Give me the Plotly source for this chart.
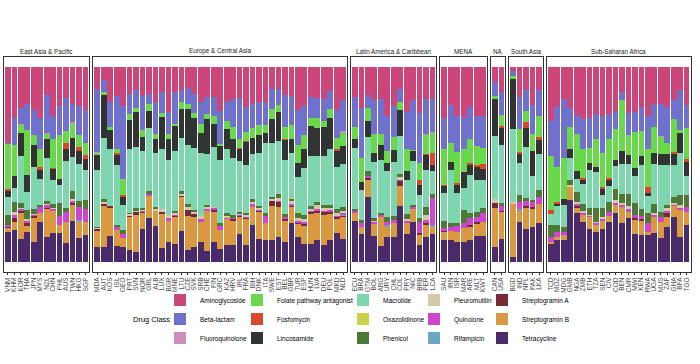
import plotly.graph_objects as go

# ---------------- data ----------------
region_names = ["East Asia & Pacific", "Europe & Central Asia", "Latin America & Caribbean",
                "MENA", "NA", "South Asia", "Sub-Saharan Africa"]

eap = ["VNM", "KHM", "KOR", "THA", "JPN", "MYS", "NZL", "CHN", "PHL", "AUS", "TWN", "HKG", "SGP"]
eca = ["MDA", "AUT", "KOS", "ISL", "GEO", "PRT", "SVN", "NOR", "GRL", "ALB", "LUX", "BGR", "MNE",
       "LTU", "CZE", "SVK", "SRB", "CHE", "FIN", "GRC", "KAZ", "HRV", "IRL", "FRA", "BIH", "DNK",
       "ITA", "SWE", "EST", "BEL", "GBR", "TUR", "ESP", "HUN", "LVA", "DEU", "POL", "MKD", "NLD"]
lac = ["ECU", "BRA", "GTM", "BOL", "ARG", "URY", "CHL", "COL", "PRY", "NIC", "BRB", "PER", "LCA"]
mena = ["SAU", "IRN", "ISR", "MAR", "ARE", "MLT", "KWT"]
nam = ["CAN", "USA"]
sas = ["BGD", "IND", "NPL", "PAK", "LKA"]
ssa = ["TCD", "MOZ", "MDG", "GMB", "NGA", "ZMB", "ETH", "TZA", "SEN", "CIV", "COD", "BEN", "CMR",
       "MWI", "KEN", "RWA", "UGA", "MUS", "ZAF", "GHA", "BFA", "TGO"]
region_countries = [eap, eca, lac, mena, nam, sas, ssa]

drug_classes = ["Aminoglycoside", "Beta-lactam", "Fluoroquinolone", "Folate pathway antagonist",
                "Fosfomycin", "Lincosamide", "Macrolide", "Oxazolidinone", "Phenicol",
                "Pleuromutilin", "Quinolone", "Rifampicin", "Streptogramin A", "Streptogramin B",
                "Tetracycline"]
class_colors = ["#CD4679", "#7070CD", "#CF8DBD", "#6AD84B", "#D9472E", "#303533", "#7ED6AF",
                "#C9D24B", "#4C7A36", "#D4C8AA", "#D045CF", "#6AA7C4", "#752A35", "#DA9841",
                "#4A2A6A"]

# shares (%) per country, in the order of the country lists above
aminoglycoside = [
    38.8, 25.9, 21.2, 19, 22.4, 26.4, 14.7, 25.3, 20.2, 16, 19, 20.1, 22.1,
    11.2, 6.6, 18.1, 15.2, 20, 14.1, 12.1, 15, 13.8, 17.8, 12.9, 22.9, 12.9, 12.1, 10.9, 13.8, 18.1,
    15.5, 15.5, 22.4, 17.8, 16.7, 16, 20.7, 19, 18, 17.8, 11.2, 11.2, 14.3, 15, 22.1, 19.8, 15.5,
    16, 16.4, 12.6, 22.1, 17.2,
    15.5, 21.2, 14.7, 17.2, 16.4, 25.3, 20.2, 11.2, 22.9, 17.2, 23.6, 16.4, 16.4,
    26.4, 19.8, 25.3, 25.9, 20.7, 25.3, 25.3,
    7.8, 12.9,
    2.1, 15.5, 12.1, 19.8, 12.1,
    27.6, 20.7, 16.4, 21.2, 24.7, 26.7, 26.4, 24.1, 25.3, 24.1, 22.9, 12.9, 23.3, 23.3, 20.7, 25,
    19, 19, 20.7, 17.2, 12.1, 19.5]
beta_lactam = [
    0.5, 13.8, 8.1, 13.3, 12.9, 15.5, 19.3, 11.7, 14.8, 16.7, 9.5, 15, 17.1,
    32.4, 6.4, 12.6, 26.7, 37.6, 10, 9.1, 17.2, 5.2, 16.7, 10.7, 11.2, 16.4, 6, 8.1, 9.8, 10.9,
    8.6, 9.5, 17.2, 9.8, 14.3, 21, 12.9, 12.6, 12, 12.1, 10.3, 8.3, 16.7, 14.8, 18.1, 15.2, 10.9,
    10.3, 11.2, 9, 14.1, 16,
    15.5, 25.3, 6.6, 17.2, 18.1, 17.8, 15.5, 6.6, 19.3, 25.3, 25.5, 18.1, 16.9,
    15.9, 19, 18.3, 16, 16.4, 15.5, 16,
    6.9, 12.1,
    2.6, 16.7, 10.3, 14.7, 12.9,
    18.1, 30.5, 30.2, 9.8, 9.8, 15.5, 15, 12.9, 18.6, 12.9, 9, 4.3, 11.2, 10, 12.1, 17.2, 11.6,
    16.4, 18.4, 9.5, 20.2, 11.6]
fluoroquinolone = [
    0, 0, 0.3, 0, 0, 0, 0.3, 0, 0, 0, 0.5, 0, 0,
    0.3, 0, 0, 0, 0, 0, 0, 0, 0, 0, 0, 0, 0, 0, 0, 0, 0, 0, 0, 0, 0, 0, 0, 0, 0, 0, 0, 0, 0, 0,
    0, 0, 0, 0, 0, 0, 0, 0, 0.3,
    0, 0, 0, 0, 0, 0, 0, 0, 0, 0, 0, 0.3, 0.3,
    0, 0, 0, 0, 0, 0, 0,
    0, 0,
    0, 0, 0, 0, 0,
    0, 0, 0, 0, 0, 0, 0, 0, 0, 0, 0, 0, 0, 0, 0, 0, 0, 0.3, 0, 0, 0, 0]
folate = [
    23, 16, 4.3, 23, 4.8, 9.3, 3.1, 14.7, 22.4, 6.4, 7.8, 6, 5.7,
    1.2, 1.4, 1.6, 2.4, 8.1, 3.1, 1.7, 3.6, 3.4, 2.6, 1.9, 2.9, 0.9, 3.4, 2.6, 2.6, 4.7, 2.6, 4.3,
    0.5, 4.3, 5.7, 4.3, 4.3, 4.7, 5, 3.8, 5.2, 3.4, 5.7, 7.2, 9.3, 6.9, 4.1, 5.2, 3.4, 4.8, 5.7,
    6.9,
    6, 12.6, 6.4, 9.5, 5.7, 6.4, 6.9, 4.3, 11.2, 0.5, 9, 9.8, 10.7,
    18.6, 10, 15.9, 12.1, 12.1, 9.7, 8.6,
    1.7, 5.5,
    1.7, 11.4, 6, 8.6, 11.2,
    27.6, 17.8, 21.2, 11.2, 19, 14.7, 7.8, 14.1, 17.6, 19.8, 15.5, 25.9, 10.3, 18.4, 12.6, 19.3,
    13.8, 9, 5.7, 16.9, 1.7, 16]
fosfomycin = [
    1, 0, 0, 0, 0, 1.4, 0, 0.5, 0, 3.1, 0, 2.2, 2.2,
    0, 0, 0, 0.7, 0.9, 0, 0, 0, 0, 0, 0, 0, 0, 0, 0, 0, 0, 0, 0, 0, 0, 0, 0.5, 0.5, 0, 0, 0, 0,
    0, 0.7, 0, 0, 0, 0, 0, 0, 0, 0.7, 0,
    0, 0, 0, 0, 0, 0, 0, 0, 0, 0, 2.2, 0.5, 6,
    0.4, 0, 0.5, 0, 0.9, 0.7, 2.2,
    0, 0.7,
    0, 1.2, 3.1, 0, 0.9,
    2.1, 1.2, 0, 0, 0, 0.5, 0, 0, 0.9, 0.9, 0, 0, 0, 0, 0, 3.1, 0, 0, 0, 0.7, 0, 1.7]
lincosamide = [
    3, 6.4, 12.1, 8.6, 11.2, 4.8, 10, 5.5, 3.4, 6, 9.5, 6.7, 5.5,
    7.8, 21.9, 10, 5, 4.3, 14.7, 17.9, 7.2, 9.1, 6.9, 16.4, 10.3, 12.9, 15.2, 18.1, 15.2, 10, 18.1,
    11.6, 7.6, 10.3, 9.8, 6.4, 11.6, 8.6, 9, 5.2, 12.1, 15, 10, 7.2, 6.9, 9.8, 15.2, 14.1, 14.7,
    15.5, 8.6, 9.3,
    4.3, 4.1, 8.1, 4.8, 7.6, 4, 6.2, 13.3, 4.3, 5.2, 5.2, 8.1, 3.4,
    3.8, 4.1, 4.7, 8.1, 5.2, 6.9, 5.9,
    19, 9,
    25.5, 4.7, 9.3, 12.6, 7.8,
    0, 0.5, 2.9, 4.3, 4, 2.4, 3.8, 2.8, 3.1, 3.4, 3.4, 6.4, 4.7, 4, 4.7, 1.4, 5.2, 5.7, 5.2, 6.2,
    10, 6.9]
macrolide = [
    9.5, 7.2, 24.1, 9.5, 21.9, 13.3, 21.9, 12.4, 9, 24.1, 17.6, 19, 15.5,
    29, 31.6, 29, 31, 12.6, 32.8, 31.6, 29.3, 32.2, 27.9, 31, 28.4, 30.7, 27.1, 30.5, 31.9, 32.2,
    25.9, 30.7, 32.4, 32.8, 29.3, 25.9, 24.7, 22.9, 27, 36, 27.6, 27.1, 27.9, 22.9, 18.3, 24.1,
    25.5, 23.3, 25, 28.8, 21.7, 22.1,
    31.6, 15.2, 17.8, 28.8, 26.9, 23.3, 27.6, 19.3, 17.6, 22.4, 12.1, 19, 11.6,
    14.3, 26.9, 15.2, 11.2, 19.8, 16.6, 14.3,
    32.4, 29.7,
    37.1, 16.6, 26.4, 12.4, 18.1,
    5.7, 10.3, 11.2, 11.2, 6.9, 10.3, 19.5, 18.4, 6.9, 7.8, 11.7, 15.5, 15.5, 14.1, 22.9, 9, 20.7,
    24.1, 20.7, 15.9, 21.6, 9.8]
oxazolidinone = [
    0, 0, 0, 0, 0, 0, 0, 0, 0, 0, 0, 0, 0,
    0, 0, 0, 0, 0, 0, 0, 0, 0, 0, 0, 0, 0, 0, 0, 0, 0, 0, 0, 0, 0, 0, 0, 0, 0, 0, 0, 0, 0, 0,
    0.2, 0.2, 0, 0, 0, 0, 0, 0, 0,
    0, 0, 0, 0, 0, 0, 0, 0, 0, 0, 0, 0, 0,
    0, 0, 0, 0, 0, 0, 0,
    0, 0,
    0, 0, 0, 0, 0,
    0, 0, 0, 0, 0, 0, 0, 0, 0, 0, 0, 0, 0, 0, 0, 0, 0, 0, 0, 0, 0, 0]
phenicol = [
    4.8, 4.8, 2.2, 4.8, 2.2, 0.8, 1.7, 2.2, 6.6, 1.7, 4, 3.1, 4.8,
    0.7, 1.2, 0, 0.9, 2.4, 0.7, 0.9, 0.9, 1.2, 0.7, 0, 0, 0.6, 1.2, 1, 1, 0, 1, 0, 1.4, 1, 1, 1,
    1, 1.5, 1, 1.5, 0.8, 2, 1.5, 1.5, 2.5, 2, 1.5, 2, 1.5, 1.5, 2, 2,
    0.7, 1.7, 2.2, 1.2, 0.7, 2.6, 2.1, 1.7, 2.8, 0.9, 1.7, 4, 2.2,
    3.4, 2.1, 1.7, 6.6, 2.6, 2.1, 2.6,
    0, 1.7,
    0, 3.4, 1.7, 1.4, 3.8,
    6, 3.4, 2.6, 2.6, 4.7, 3.4, 3.4, 6.9, 4.3, 5.2, 5.5, 4.8, 5.7, 6, 3.4, 4.8, 4.8, 2.6, 1.5, 3.4,
    5.2, 6]
pleuromutilin = [
    0, 1.5, 0.3, 0.5, 0.3, 0, 0.3, 0.3, 0, 0, 1, 0, 0,
    0.5, 0.9, 0, 0, 0, 0.7, 1, 0.4, 0, 0.7, 1, 1.5, 1, 0.7, 2, 1, 1.5, 0.6, 0.6, 0, 1, 0, 0.6,
    0.9, 0.8, 1, 0, 1.5, 1.5, 0, 1, 1.5, 1.5, 1, 2, 1.5, 1, 1, 1,
    0, 0, 0, 0.4, 0, 0, 0, 1, 0.5, 0, 0, 2.6, 0,
    0, 0, 0, 0, 0, 0, 0,
    2, 0,
    0.9, 0, 0, 0, 0,
    0, 0, 0, 0.9, 1, 1, 0.4, 0.6, 0.7, 0, 1.5, 0.9, 1.5, 0, 0, 0, 0.7, 0, 1.5, 0.7, 1, 0]
quinolone = [
    1, 1.5, 1.5, 1.5, 1.2, 3.1, 1.7, 0.7, 4.7, 5.2, 1, 6.9, 6.4,
    0, 0, 0, 1.4, 1.7, 0, 0, 0.5, 1.4, 0, 0, 1, 0.5, 0, 0, 0, 1.5, 1, 1, 2.1, 0.6, 1, 0.5, 0.5,
    1.5, 0.5, 3.6, 0, 0.5, 1, 1, 1, 1, 0.5, 0.5, 0.2, 1, 1.2, 1,
    1.4, 1.7, 1, 1, 1, 1.7, 1.4, 1.2, 1.2, 0.9, 5.5, 1.2, 13.8,
    1.7, 2.1, 2.9, 2.4, 3.4, 2.6, 4.3,
    0, 2.6,
    0, 3.8, 2.1, 2.1, 3.4,
    2.6, 2.6, 1.7, 0, 1, 1.2, 0.5, 0.6, 1, 2.2, 1, 0.8, 1.5, 1, 1.5, 4.7, 0.7, 2.6, 1, 0.7, 1.5,
    2.6]
rifampicin = [
    0, 0, 0, 0, 0, 0, 0, 0, 0, 0, 0, 0.5, 0,
    0, 0, 0, 0, 0, 0, 0, 0, 0, 0, 0, 0, 0, 0, 0, 0, 0, 0, 0, 0, 0, 0, 0, 0, 0, 0, 0, 0, 0, 0,
    0, 0, 0, 0, 0, 0, 0, 0, 0.5,
    0, 0, 0, 0, 0, 0.9, 0, 0, 0, 0, 0, 0, 0.9,
    0, 0, 0, 0, 0, 0, 0,
    0, 0,
    0, 0.5, 0, 0, 0,
    0, 0, 0, 0, 0, 0, 0, 0, 0, 0, 0, 0, 0, 0, 0, 0, 0, 0, 0, 0, 0, 0]
streptogramin_a = [
    0.5, 2, 0.5, 1, 0.3, 0, 0.5, 0, 0, 0, 1.4, 0, 0,
    1, 1.2, 1.2, 0, 0, 0.7, 1.5, 0.5, 0, 0, 1, 0, 0.5, 0.7, 3, 1.4, 0, 0, 1, 0, 0, 0.6, 0.5, 0.5,
    0, 0.5, 0, 2.5, 2.5, 0.6, 0.8, 0.5, 1.2, 0.8, 1.5, 2, 0.8, 0.5, 0.7,
    0, 0, 1, 0, 0, 0, 0, 2.2, 0, 0, 0.9, 1.4, 0,
    0.5, 0, 0, 0, 1.2, 0.9, 0,
    2.6, 0.5,
    0, 0, 0.9, 0.9, 0,
    0, 0, 0, 0, 1.5, 0, 0, 0, 0, 0, 0, 0, 0, 1.5, 0.6, 0, 0, 0, 2, 0, 0, 0]
streptogramin_b = [
    2.2, 4.3, 14, 3.4, 12.9, 4.7, 14.3, 11.7, 4, 10.9, 8.1, 8.6, 6.6,
    8.3, 21.2, 14.3, 8.6, 4.8, 16.9, 19, 8.1, 11.2, 8.3, 17.6, 11.2, 14.5, 17.8, 17.2, 15.5, 10.3,
    20.7, 15.5, 9.5, 13.8, 12.9, 8.6, 13.8, 9.5, 14, 8.5, 17.2, 15.5, 11.2, 8.3, 6.9, 9.3, 15.9,
    13.8, 15.5, 13.8, 7.4, 11.2,
    3.8, 3.8, 9, 6.6, 15.5, 5.2, 7.2, 10.3, 5.9, 6.9, 5.7, 6, 3.4,
    4, 4.8, 5.2, 7.4, 6.2, 6.6, 7.4,
    19.8, 13.8,
    27.2, 6, 10.9, 9.5, 9.7,
    1.2, 1.7, 2.6, 6.9, 2.6, 3.4, 6, 4, 4.3, 2.9, 4.3, 8.3, 3.4, 7.2, 7.4, 1.7, 8.6, 8.3, 5.5, 5.5,
    13.8, 6.9]
tetracycline = [
    15.5, 16.4, 11.7, 15.5, 10.3, 20.7, 13.3, 15, 15, 9.8, 21.2, 12.4, 14.1,
    7.8, 7.8, 13.3, 8.1, 7.8, 6.4, 5.2, 17.2, 22.4, 18.4, 7.4, 10.3, 9.1, 15.9, 6.4, 7.8, 10.3, 6,
    10.3, 6.9, 8.6, 8.6, 14.7, 8.6, 19, 12, 11.5, 11.6, 12.9, 10.3, 20.2, 12.9, 9.1, 9.1, 11.2,
    8.6, 11.2, 15, 12.1,
    21.2, 14.3, 33.3, 13.3, 8.1, 12.9, 12.9, 28.8, 14.3, 20.7, 8.6, 12.9, 14.7,
    11.6, 11.2, 10.3, 10.3, 11.6, 13.3, 13.3,
    7.8, 12.1,
    2.9, 20.7, 17.2, 18.1, 20.2,
    9.1, 11.2, 11.2, 31.9, 25, 20.7, 17.2, 15.5, 17.2, 20.7, 25, 20.2, 22.4, 14.3, 14.1, 13.8, 15,
    12.4, 17.8, 23.3, 12.9, 19]

class_values = [aminoglycoside, beta_lactam, fluoroquinolone, folate, fosfomycin, lincosamide,
                macrolide, oxazolidinone, phenicol, pleuromutilin, quinolone, rifampicin,
                streptogramin_a, streptogramin_b, tetracycline]

n_total = sum(len(c) for c in region_countries)
for nm, vals in zip(drug_classes, class_values):
    if len(vals) != n_total:
        raise ValueError(f"{nm}: {len(vals)} values, expected {n_total}")

# ---------------- layout geometry ----------------
W, H = 700, 364
unit_px, gap_px, left_px = 6.47, 4.0, 4.0
top_px, bottom_px = 57, 272
y_dom = [1 - bottom_px / H, 1 - top_px / H]
FONT = "Liberation Sans, Arial, sans-serif"

fig = go.Figure()
layout_axes = {}
annotations = []
start = 0
x_left = left_px
for r, (rname, countries) in enumerate(zip(region_names, region_countries)):
    n = len(countries)
    width = (n + 0.2) * unit_px
    dom = [x_left / W, (x_left + width) / W]
    x_left += width + gap_px
    sfx = "" if r == 0 else str(r + 1)
    xa, ya = "x" + sfx, "y" + sfx
    # stack from bottom (Tetracycline) to top (Aminoglycoside)
    for ci in reversed(range(len(drug_classes))):
        col = ci // 3
        fig.add_trace(go.Bar(
            x=countries, y=class_values[ci][start:start + n],
            name=drug_classes[ci], marker=dict(color=class_colors[ci], line=dict(width=0)),
            xaxis=xa, yaxis=ya, legendgroup=drug_classes[ci], showlegend=(r == 0),
            legend="legend" if col == 0 else f"legend{col + 1}", legendrank=ci,
            hovertemplate="%{x}: %{y}<extra>" + drug_classes[ci] + "</extra>"))
    start += n
    layout_axes["xaxis" + sfx] = dict(
        domain=dom, anchor=ya, type="category", categoryorder="array", categoryarray=countries,
        tickmode="array", tickvals=countries, ticktext=countries,
        range=[-0.6, n - 0.4], tickangle=-90, tickfont=dict(size=6.5, color="#4D4D4D", family=FONT),
        showline=True, mirror=True, linecolor="#333333", linewidth=0.8, showgrid=False,
        ticks="outside", ticklen=2, tickwidth=0.6, tickcolor="#333333", fixedrange=True,
        automargin=False)
    layout_axes["yaxis" + sfx] = dict(
        domain=y_dom, anchor=xa, range=[-0.05, 1.05], showticklabels=False, showgrid=False,
        zeroline=False, showline=True, mirror=True, linecolor="#333333", linewidth=0.8,
        ticks="", fixedrange=True, automargin=False)
    annotations.append(dict(text=rname, xref="paper", yref="paper", x=(dom[0] + dom[1]) / 2,
                            y=y_dom[1], xanchor="center", yanchor="bottom", yshift=1,
                            showarrow=False, borderpad=0,
                            font=dict(size=6.3, color="#1A1A1A", family=FONT)))

annotations.append(dict(text="Drug Class", xref="paper", yref="paper", x=131 / W, y=1 - 319 / H,
                        xanchor="left", yanchor="middle", showarrow=False,
                        font=dict(size=7.5, color="#000000", family=FONT)))

# legend: five vertical legends of three entries (column-major like the reference)
legend_swatch_centers = [180, 257, 363, 434, 502]
legends = {}
for k, cx in enumerate(legend_swatch_centers):
    key = "legend" if k == 0 else f"legend{k + 1}"
    legends[key] = dict(x=(cx - 20) / W, xanchor="left", y=1 - 319 / H, yanchor="middle",
                        orientation="v", bgcolor="rgba(0,0,0,0)", borderwidth=0,
                        font=dict(size=6.5, color="#000000", family=FONT),
                        tracegroupgap=0, traceorder="normal", itemwidth=30)

fig.update_layout(
    width=W, height=H, margin=dict(l=0, r=0, t=0, b=0, autoexpand=False),
    paper_bgcolor="white", plot_bgcolor="white",
    barmode="stack", barnorm="fraction", bargap=0.12,
    font=dict(family=FONT), annotations=annotations,
    **layout_axes, **legends)

fig.write_html("out.html", config={"displayModeBar": False},
               post_script="document.body.style.margin = '0px';")
